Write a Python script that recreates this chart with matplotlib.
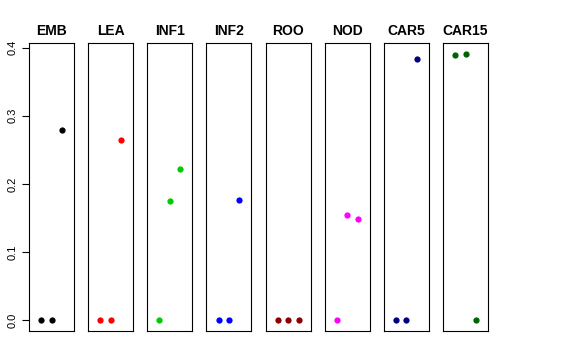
import matplotlib
matplotlib.use("Agg")
import matplotlib.pyplot as plt

plt.rcParams['font.family'] = ['Liberation Sans', 'DejaVu Sans']

tissues = ["EMB", "LEA", "INF1", "INF2", "ROO", "NOD", "CAR5", "CAR15"]
colors = ["black", "red", "#00CD00", "blue", "#8B0000", "magenta", "#000080", "#006400"]
values = {
    "EMB":   [0.0, 0.0, 0.279],
    "LEA":   [0.0, 0.0, 0.265],
    "INF1":  [0.0, 0.175, 0.222],
    "INF2":  [0.0, 0.0, 0.177],
    "ROO":   [0.0, 0.0, 0.0],
    "NOD":   [0.0, 0.155, 0.149],
    "CAR5":  [0.0, 0.0, 0.383],
    "CAR15": [0.389, 0.391, 0.0],
}
reps = [1, 2, 3]
yticks = [0.0, 0.1, 0.2, 0.3, 0.4]
ytick_labels = ["0.0", "0.1", "0.2", "0.3", "0.4"]

W, H = 576, 360
fig = plt.figure(figsize=(W / 100, H / 100), dpi=100)

ymax = max(max(v) for v in values.values())
ext = 0.04 * ymax
left0, step, width = 29, 59.15, 45
top, bottom = 43, 331

for i, (t, c) in enumerate(zip(tissues, colors)):
    ax = fig.add_axes([(left0 + i * step) / W, (H - bottom) / H, width / W, (bottom - top) / H])
    ax.plot(reps, values[t], 'o', color=c, markersize=4.5, markeredgewidth=0)
    ax.set_xlim(-0.16, 4.16)
    ax.set_ylim(-ext, ymax + ext)
    ax.set_xticks([])
    ax.set_title(t, fontsize=10, fontweight='bold', pad=6)
    for s in ax.spines.values():
        s.set_linewidth(0.8)
        s.set_color('black')
    if i == 0:
        ax.set_yticks(yticks)
        ax.set_yticklabels(ytick_labels, rotation=90, va='center', fontsize=8)
        ax.tick_params(axis='y', length=5, width=0.8, pad=3)
    else:
        ax.set_yticks([])

fig.savefig("out.png", dpi=100)
